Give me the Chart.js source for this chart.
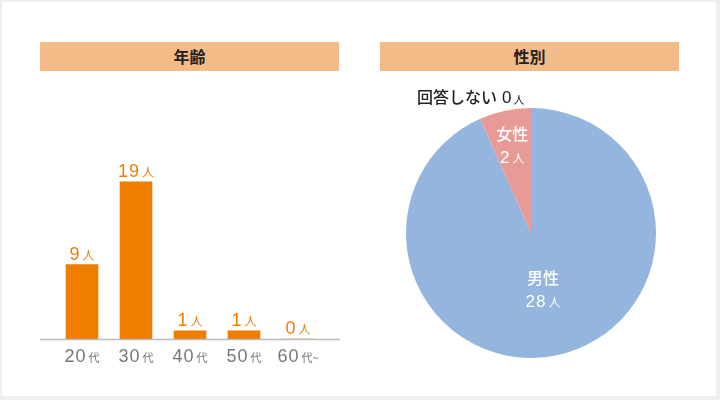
<!DOCTYPE html>
<html><head><meta charset="utf-8">
<script src="https://cdn.jsdelivr.net/npm/chart.js@4"></script>
<style>
html,body{margin:0;padding:0;background:#efefef;width:720px;height:400px;overflow:hidden;}
#box{position:absolute;left:2px;top:2px;width:714px;height:394px;background:#fff;}
.ttl{position:absolute;top:42px;height:29px;width:299px;background:#f2bb88;color:#222;font:bold 16px "Noto Sans CJK JP",sans-serif;text-align:center;line-height:29px;}
#c1{position:absolute;left:40px;top:80px;}
#c2{position:absolute;left:381px;top:83px;}
</style></head>
<body>
<div id="box"></div>
<div class="ttl" style="left:40px">年齢</div>
<div class="ttl" style="left:380px">性別</div>
<canvas id="c1" width="300" height="300"></canvas>
<canvas id="c2" width="300" height="300"></canvas>
<script>
const ageCategories = ["20","30","40","50","60"];
const ageSuffix = ["代","代","代","代","代~"];
const ageCounts = [9, 19, 1, 1, 0];
const genderLabels = ["男性","女性","回答しない"];
const genderCounts = [28, 2, 0];
const genderColors = ["#94b5dd","#e89a97","#cccccc"];

const NUMF = 'Arial, "Liberation Sans", "Noto Sans CJK JP", sans-serif';
const JPF = '"Noto Sans CJK JP", sans-serif';

function drawPair(ctx, num, suf, cx, cy, color, nSize, sSize, weight) {
  const w = weight ? weight + ' ' : '';
  ctx.letterSpacing = '1px';
  ctx.font = w + nSize + 'px ' + NUMF;
  const w1 = ctx.measureText(num).width;
  ctx.letterSpacing = '0px';
  ctx.font = w + sSize + 'px ' + JPF;
  const w2 = ctx.measureText(suf).width;
  const gap = 2;
  const x0 = cx - (w1 + gap + w2) / 2;
  ctx.fillStyle = color;
  ctx.textBaseline = 'alphabetic';
  ctx.textAlign = 'left';
  ctx.letterSpacing = '1px';
  ctx.font = w + nSize + 'px ' + NUMF;
  ctx.fillText(num, x0, cy + nSize * 0.36);
  ctx.letterSpacing = '0px';
  ctx.font = w + sSize + 'px ' + JPF;
  ctx.fillText(suf, x0 + w1 + gap, cy + nSize * 0.36);
}

const barPlugin = {
  id: 'barLabels',
  afterDraw(chart) {
    const ctx = chart.ctx;
    const area = chart.chartArea;
    const xs = chart.scales.x;
    ctx.save();
    ctx.strokeStyle = '#bbbbbb';
    ctx.lineWidth = 1.5;
    ctx.beginPath();
    ctx.moveTo(0, area.bottom + 0.5);
    ctx.lineTo(300, area.bottom + 0.5);
    ctx.stroke();
    const meta = chart.getDatasetMeta(0);
    meta.data.forEach((bar, i) => {
      drawPair(ctx, String(ageCounts[i]), '人', bar.x, bar.y - 11, '#ef7d00', 18, 12, '');
      drawPair(ctx, ageCategories[i], ageSuffix[i], xs.getPixelForValue(i), area.bottom + 17, '#777777', 18, 11, '');
    });
    ctx.restore();
  }
};

new Chart(document.getElementById('c1'), {
  type: 'bar',
  data: { labels: ageCategories.map((c,i)=>c+ageSuffix[i]),
    datasets: [{ data: ageCounts, backgroundColor: '#ef7d00', barThickness: 32, borderWidth: 0 }] },
  options: {
    responsive: false, animation: false,
    layout: { padding: { left: 15, right: 15, top: 0, bottom: 41 } },
    plugins: { legend: { display: false }, tooltip: { enabled: false } },
    scales: {
      x: { display: false },
      y: { display: false, min: 0, max: 31.3 }
    }
  },
  plugins: [barPlugin]
});

const piePlugin = {
  id: 'pieLabels',
  afterDraw(chart) {
    const ctx = chart.ctx;
    const meta = chart.getDatasetMeta(0);
    ctx.save();
    const factors = [0.46, 0.72];
    [0, 1].forEach(i => {
      const arc = meta.data[i];
      const mid = (arc.startAngle + arc.endAngle) / 2;
      const r = arc.outerRadius * factors[i];
      const cx = arc.x + Math.cos(mid) * r;
      const cy = arc.y + Math.sin(mid) * r;
      ctx.fillStyle = '#ffffff';
      ctx.font = '500 16px ' + JPF;
      ctx.textAlign = 'center';
      ctx.textBaseline = 'middle';
      ctx.fillText(genderLabels[i], cx, cy - 11);
      drawPair(ctx, String(genderCounts[i]), '人', cx, cy + 12, '#ffffff', 17, 12, '');
    });
    // 回答しない
    const a0 = meta.data[0];
    ctx.font = '500 16px ' + JPF;
    ctx.fillStyle = '#222222';
    ctx.textAlign = 'left';
    ctx.textBaseline = 'middle';
    const lx = a0.x - 114, ly = a0.y - 136;
    ctx.fillText(genderLabels[2], lx, ly);
    const tw = ctx.measureText(genderLabels[2]).width;
    ctx.font = '17px ' + NUMF;
    ctx.fillText(String(genderCounts[2]), lx + tw + 5, ly + 1);
    const nw = ctx.measureText(String(genderCounts[2])).width;
    ctx.font = '11px ' + JPF;
    ctx.fillText('人', lx + tw + 5 + nw + 2, ly + 3);
    ctx.restore();
  }
};

new Chart(document.getElementById('c2'), {
  type: 'pie',
  data: { labels: genderLabels,
    datasets: [{ data: genderCounts, backgroundColor: genderColors, borderWidth: 0, hoverOffset: 0 }] },
  options: {
    responsive: false, animation: false,
    layout: { padding: 25 },
    plugins: { legend: { display: false }, tooltip: { enabled: false } }
  },
  plugins: [piePlugin]
});
</script>
</body></html>
